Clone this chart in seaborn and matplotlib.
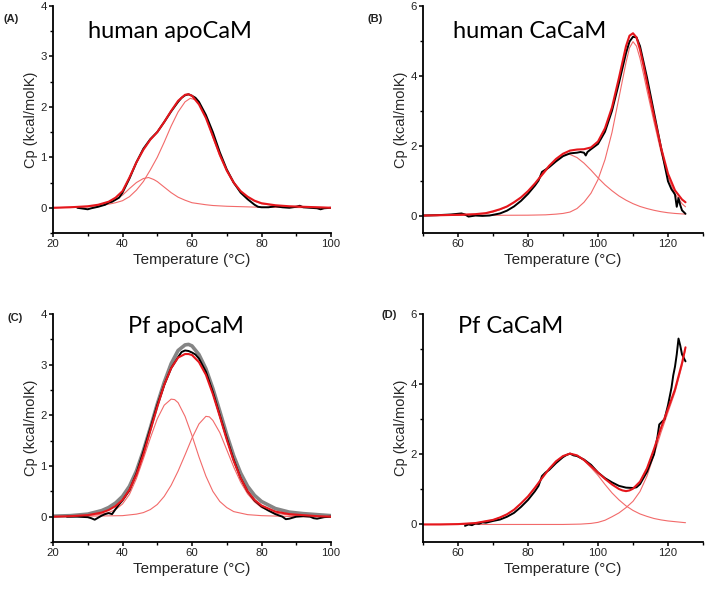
import matplotlib
matplotlib.use("Agg")
import matplotlib.pyplot as plt
import seaborn as sns
from matplotlib.ticker import MultipleLocator

# ---- (A) human apoCaM ----
a_fit_t = [20, 25, 30, 33, 36, 38, 40, 42, 44, 46, 48, 50, 52, 54, 56, 58, 59, 60, 62, 64, 66, 68, 70, 72, 74, 76, 78, 80, 84, 88, 92, 96, 100]
a_fit = [0.0, 0.01, 0.03, 0.06, 0.12, 0.2, 0.33, 0.6, 0.9, 1.15, 1.35, 1.5, 1.7, 1.92, 2.12, 2.24, 2.25, 2.22, 2.05, 1.78, 1.42, 1.05, 0.74, 0.5, 0.33, 0.22, 0.14, 0.09, 0.05, 0.03, 0.02, 0.01, 0.0]
a_c1_t = [20, 25, 30, 33, 36, 38, 40, 42, 44, 46, 47.5, 49, 50, 52, 54, 56, 58, 60, 62, 64, 66, 70, 75, 80, 90, 100]
a_c1 = [0.0, 0.01, 0.02, 0.05, 0.1, 0.16, 0.25, 0.38, 0.5, 0.58, 0.6, 0.56, 0.52, 0.41, 0.3, 0.21, 0.15, 0.1, 0.08, 0.06, 0.045, 0.03, 0.02, 0.01, 0.005, 0.0]
a_c2_t = [20, 30, 34, 36, 38, 40, 42, 44, 46, 48, 50, 52, 54, 56, 58, 59.5, 61, 62, 64, 66, 68, 70, 72, 74, 76, 78, 80, 84, 88, 92, 100]
a_c2 = [0.0, 0.02, 0.05, 0.07, 0.1, 0.14, 0.22, 0.35, 0.52, 0.75, 1.0, 1.3, 1.62, 1.9, 2.1, 2.17, 2.14, 2.08, 1.8, 1.4, 1.03, 0.72, 0.48, 0.32, 0.21, 0.13, 0.08, 0.04, 0.02, 0.015, 0.005]
a_dat_t = [27, 29, 30, 31, 33, 35, 36, 37, 38, 39, 40, 42, 44, 46, 48, 50, 52, 54, 56, 57, 58, 59, 60, 61, 62, 64, 66, 68, 70, 72, 74, 76, 78, 79, 80, 82, 84, 86, 88, 90, 91, 92, 94, 96, 97, 98, 100]
a_dat = [0.0, -0.02, -0.03, -0.01, 0.02, 0.06, 0.1, 0.12, 0.16, 0.2, 0.3, 0.58, 0.9, 1.17, 1.36, 1.5, 1.7, 1.91, 2.1, 2.18, 2.23, 2.25, 2.22, 2.18, 2.1, 1.84, 1.5, 1.1, 0.76, 0.5, 0.3, 0.17, 0.06, 0.02, 0.01, 0.01, 0.03, 0.01, 0.0, 0.02, 0.04, 0.01, 0.0, -0.01, -0.03, -0.01, 0.0]

# ---- (B) human CaCaM ----
b_fit_t = [50, 55, 60, 65, 68, 70, 72, 74, 76, 78, 80, 82, 84, 86, 88, 90, 92, 94, 96, 98, 100, 102, 104, 106, 107, 108, 109, 110, 111, 112, 113, 114, 116, 118, 120, 122, 124, 125]
b_fit = [0.0, 0.01, 0.02, 0.04, 0.07, 0.12, 0.18, 0.26, 0.38, 0.52, 0.7, 0.92, 1.17, 1.42, 1.62, 1.77, 1.86, 1.89, 1.9, 1.95, 2.12, 2.5, 3.1, 3.95, 4.4, 4.85, 5.15, 5.22, 5.1, 4.75, 4.3, 3.8, 2.85, 1.95, 1.2, 0.72, 0.46, 0.38]
b_c1_t = [50, 60, 65, 68, 70, 72, 74, 76, 78, 80, 82, 84, 86, 88, 90, 91, 92, 94, 96, 98, 100, 102, 104, 106, 108, 110, 112, 114, 116, 118, 120, 122, 125]
b_c1 = [0.0, 0.01, 0.03, 0.06, 0.1, 0.17, 0.25, 0.37, 0.51, 0.69, 0.9, 1.14, 1.38, 1.58, 1.72, 1.76, 1.75, 1.66, 1.5, 1.3, 1.08, 0.88, 0.71, 0.56, 0.44, 0.34, 0.26, 0.2, 0.15, 0.11, 0.08, 0.06, 0.04]
b_c2_t = [50, 80, 85, 88, 90, 92, 94, 96, 98, 100, 102, 104, 106, 107, 108, 109, 110, 111, 112, 113, 114, 116, 118, 120, 122, 124, 125]
b_c2 = [0.0, 0.01, 0.02, 0.04, 0.06, 0.1, 0.2, 0.38, 0.64, 1.03, 1.6, 2.38, 3.38, 3.88, 4.38, 4.8, 4.98, 4.85, 4.5, 4.05, 3.58, 2.68, 1.82, 1.1, 0.62, 0.34, 0.25]
b_dat_t = [50, 54, 58, 60, 61, 62, 63, 65, 67, 69, 70, 72, 74, 76, 78, 80, 82, 83, 84, 86, 88, 90, 92, 94, 95, 96, 96.5, 97, 98, 100, 102, 104, 106, 108, 109, 110, 111, 112, 114, 116, 118, 120, 121, 121.5, 122, 122.5, 123, 123.5, 124, 125]
b_dat = [0.0, 0.01, 0.03, 0.05, 0.06, 0.03, -0.03, 0.0, -0.01, 0.0, 0.02, 0.06, 0.14, 0.26, 0.42, 0.62, 0.86, 1.0, 1.25, 1.38, 1.55, 1.7, 1.78, 1.8, 1.82, 1.8, 1.72, 1.82, 1.9, 2.05, 2.4, 3.0, 3.8, 4.65, 4.98, 5.12, 5.1, 4.85, 3.95, 2.95, 1.95, 0.98, 0.75, 0.68, 0.6, 0.25, 0.5, 0.3, 0.15, 0.05]

# ---- (C) Pf apoCaM ----
c_fit_t = [20, 25, 30, 34, 36, 38, 40, 42, 44, 46, 48, 50, 52, 54, 56, 58, 59, 60, 62, 64, 66, 68, 70, 72, 74, 76, 78, 80, 84, 88, 92, 96, 100]
c_fit = [0.0, 0.01, 0.03, 0.08, 0.13, 0.21, 0.33, 0.53, 0.83, 1.23, 1.7, 2.17, 2.6, 2.93, 3.14, 3.21, 3.21, 3.19, 3.05, 2.8, 2.42, 1.98, 1.52, 1.1, 0.76, 0.5, 0.33, 0.22, 0.1, 0.05, 0.03, 0.01, 0.0]
c_gray_t = [20, 25, 30, 34, 36, 38, 40, 42, 44, 46, 48, 50, 52, 54, 56, 58, 59, 60, 62, 64, 66, 68, 70, 72, 74, 76, 78, 80, 84, 88, 92, 96, 100]
c_gray = [0.01, 0.02, 0.05, 0.12, 0.18, 0.27, 0.4, 0.6, 0.9, 1.3, 1.75, 2.22, 2.65, 3.02, 3.28, 3.39, 3.4, 3.37, 3.2, 2.92, 2.53, 2.08, 1.62, 1.2, 0.86, 0.6, 0.42, 0.3, 0.16, 0.09, 0.06, 0.04, 0.02]
c_c1_t = [20, 30, 34, 36, 38, 40, 42, 44, 46, 48, 50, 52, 54, 55, 56, 58, 60, 62, 64, 66, 68, 70, 72, 76, 80, 90, 100]
c_c1 = [0.0, 0.02, 0.05, 0.08, 0.14, 0.25, 0.44, 0.75, 1.14, 1.55, 1.93, 2.2, 2.32, 2.31, 2.25, 1.98, 1.6, 1.18, 0.8, 0.5, 0.3, 0.18, 0.1, 0.04, 0.02, 0.0, 0.0]
c_c2_t = [20, 40, 44, 46, 48, 50, 52, 54, 56, 58, 60, 62, 64, 65, 66, 68, 70, 72, 74, 76, 78, 80, 84, 88, 94, 100]
c_c2 = [0.0, 0.02, 0.05, 0.08, 0.14, 0.24, 0.4, 0.62, 0.9, 1.22, 1.55, 1.83, 1.98, 1.97, 1.9, 1.66, 1.32, 0.98, 0.68, 0.45, 0.29, 0.18, 0.07, 0.03, 0.01, 0.0]
c_dat_t = [24, 27, 30, 31, 32, 33, 34, 35, 36, 37, 38, 39, 40, 42, 44, 46, 48, 50, 52, 54, 56, 57, 58, 59, 60, 61, 62, 64, 66, 68, 70, 72, 74, 76, 78, 80, 82, 84, 86, 87, 88, 90, 92, 94, 95, 96, 98, 100]
c_dat = [0.0, 0.0, -0.01, -0.03, -0.06, -0.02, 0.02, 0.05, 0.07, 0.05, 0.15, 0.24, 0.32, 0.52, 0.85, 1.28, 1.74, 2.2, 2.6, 2.93, 3.15, 3.25, 3.28, 3.27, 3.24, 3.2, 3.12, 2.86, 2.46, 2.0, 1.55, 1.12, 0.76, 0.5, 0.32, 0.2, 0.12, 0.05, 0.0, -0.05, -0.04, 0.0, 0.01, 0.0, -0.03, -0.04, -0.01, 0.0]

# ---- (D) Pf CaCaM ----
d_fit_t = [50, 55, 60, 65, 70, 72, 74, 76, 78, 80, 82, 84, 86, 88, 90, 92, 94, 96, 98, 100, 102, 104, 106, 107, 108, 109, 110, 112, 114, 116, 118, 120, 122, 124, 125]
d_fit = [0.0, 0.0, 0.01, 0.04, 0.13, 0.2, 0.29, 0.42, 0.6, 0.8, 1.05, 1.32, 1.58, 1.8, 1.95, 2.02, 1.97, 1.84, 1.66, 1.48, 1.3, 1.14, 1.01, 0.97, 0.95, 0.97, 1.02, 1.22, 1.6, 2.15, 2.75, 3.3, 3.85, 4.6, 5.05]
d_c1_t = [50, 60, 65, 70, 72, 74, 76, 78, 80, 82, 84, 86, 88, 90, 92, 94, 96, 98, 100, 102, 104, 106, 108, 110, 112, 114, 116, 118, 120, 122, 125]
d_c1 = [0.0, 0.01, 0.04, 0.13, 0.2, 0.29, 0.42, 0.6, 0.8, 1.05, 1.32, 1.58, 1.8, 1.95, 2.02, 1.96, 1.82, 1.62, 1.4, 1.14, 0.9, 0.7, 0.53, 0.4, 0.3, 0.23, 0.17, 0.13, 0.1, 0.08, 0.05]
d_c2_t = [50, 90, 95, 98, 100, 102, 104, 106, 108, 110, 112, 114, 116, 118, 120, 122, 124, 125]
d_c2 = [0.0, 0.0, 0.01, 0.03, 0.06, 0.12, 0.22, 0.33, 0.48, 0.66, 0.94, 1.38, 1.98, 2.62, 3.2, 3.77, 4.52, 5.0]
d_dat_t = [62, 63, 64, 65, 66, 67, 68, 70, 72, 74, 76, 78, 80, 82, 83, 84, 85, 86, 88, 90, 91, 92, 93, 94, 96, 98, 100, 102, 104, 106, 108, 110, 111, 112, 114, 116, 117, 117.5, 118, 119, 120, 121, 121.5, 122, 122.5, 123, 123.5, 124, 124.5, 125]
d_dat = [-0.04, 0.0, -0.02, 0.03, 0.02, 0.06, 0.05, 0.1, 0.14, 0.22, 0.33, 0.5, 0.7, 0.95, 1.1, 1.38, 1.48, 1.55, 1.75, 1.92, 1.98, 2.02, 1.97, 1.95, 1.85, 1.7, 1.48, 1.32, 1.2, 1.1, 1.05, 1.04, 1.06, 1.15, 1.5, 2.0, 2.5, 2.85, 2.9, 3.0, 3.4, 3.9, 4.25, 4.5, 4.85, 5.3, 5.1, 4.85, 4.75, 4.65]

titles = ["human apoCaM", "human CaCaM", "Pf apoCaM", "Pf CaCaM"]
letters = ["(A)", "(B)", "(C)", "(D)"]

sns.set_style("ticks")
plt.rcParams["font.family"] = ["Liberation Sans", "DejaVu Sans"]

RED = "#e5161c"
THIN = "#f26a6a"
GRAY = "#858585"


def line(ax, t, y, **kw):
    sns.lineplot(x=t, y=y, ax=ax, estimator=None, sort=False, legend=False, **kw)


fig = plt.figure(figsize=(7.09, 5.92), dpi=100)
boxes = [
    [53 / 709, 1 - 233 / 592, 278 / 709, 227 / 592],
    [423 / 709, 1 - 233 / 592, 280 / 709, 227 / 592],
    [53 / 709, 1 - 542 / 592, 278 / 709, 228 / 592],
    [423 / 709, 1 - 542 / 592, 280 / 709, 228 / 592],
]
axes = [fig.add_axes(b) for b in boxes]

panels = [
    dict(c1=(a_c1_t, a_c1), c2=(a_c2_t, a_c2), dat=(a_dat_t, a_dat), fit=(a_fit_t, a_fit)),
    dict(c1=(b_c1_t, b_c1), c2=(b_c2_t, b_c2), dat=(b_dat_t, b_dat), fit=(b_fit_t, b_fit)),
    dict(c1=(c_c1_t, c_c1), c2=(c_c2_t, c_c2), dat=(c_dat_t, c_dat), fit=(c_fit_t, c_fit),
         gray=(c_gray_t, c_gray)),
    dict(c1=(d_c1_t, d_c1), c2=(d_c2_t, d_c2), dat=(d_dat_t, d_dat), fit=(d_fit_t, d_fit)),
]

for i, (ax, p) in enumerate(zip(axes, panels)):
    line(ax, *p["c1"], color=THIN, linewidth=0.8)
    line(ax, *p["c2"], color=THIN, linewidth=0.8)
    if "gray" in p:
        line(ax, *p["gray"], color=GRAY, linewidth=2.6)
    line(ax, *p["dat"], color="black", linewidth=1.4)
    line(ax, *p["fit"], color=RED, linewidth=1.5)

    if i in (0, 2):
        ax.set_xlim(20, 100)
        ax.set_ylim(-0.5, 4)
        ax.xaxis.set_major_locator(MultipleLocator(20))
        ax.xaxis.set_minor_locator(MultipleLocator(10))
        ax.yaxis.set_major_locator(MultipleLocator(1))
        ax.yaxis.set_minor_locator(MultipleLocator(0.5))
    else:
        ax.set_xlim(50, 130)
        ax.set_ylim(-0.5, 6)
        ax.set_xticks([60, 80, 100, 120])
        ax.xaxis.set_minor_locator(MultipleLocator(10))
        ax.yaxis.set_major_locator(MultipleLocator(2))
        ax.yaxis.set_minor_locator(MultipleLocator(1))

    sns.despine(ax=ax)
    for s in ("left", "bottom"):
        ax.spines[s].set_linewidth(1.3)
        ax.spines[s].set_color("black")
    ax.tick_params(which="major", direction="out", length=3, width=1.1,
                   labelsize=8.2, colors="black", labelcolor="#222222", pad=1.5)
    ax.tick_params(which="minor", direction="out", length=2.5, width=1.0, colors="black")
    ax.set_xlabel("Temperature (°C)", fontsize=11, labelpad=3)
    ax.set_ylabel("Cp (kcal/molK)", fontsize=10.5, labelpad=2)

title_pos = [(0.126, 0.86), (0.107, 0.86), (0.27, 0.915), (0.125, 0.915)]
for ax, t, (tx, ty) in zip(axes, titles, title_pos):
    ax.text(tx, ty, t, transform=ax.transAxes, ha="left", va="baseline",
            fontsize=17, family=["Lato", "DejaVu Sans"], color="black")

letter_pos = [(3, 19), (367, 19), (7, 318), (381, 315)]
for (lx, ly), lab in zip(letter_pos, letters):
    fig.text(lx / 709, 1 - ly / 592, lab, ha="left", va="center",
             fontsize=8, fontweight="bold", color="#222222")

fig.savefig("out.png", dpi=100)
